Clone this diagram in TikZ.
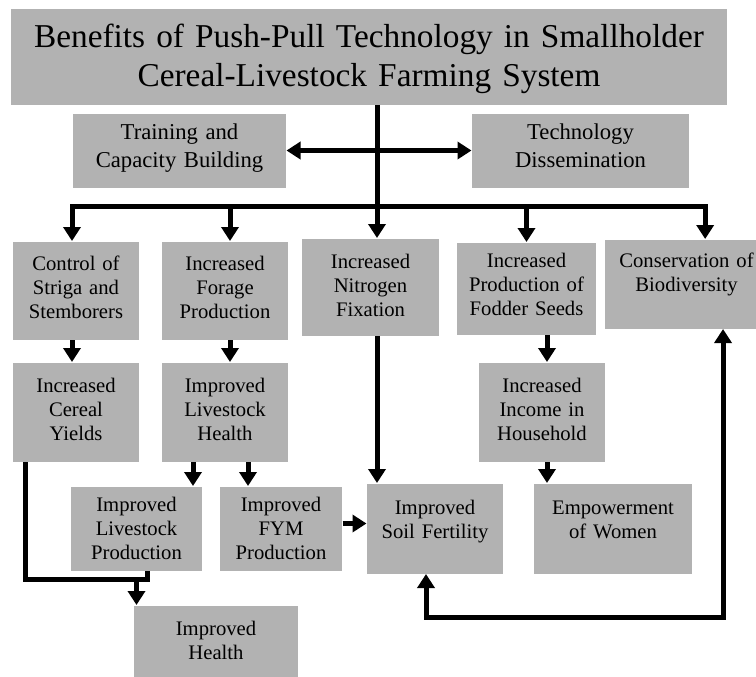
\documentclass[tikz,border=0pt]{standalone}
\usepackage{fontspec}
\setmainfont{Liberation Serif}
\usetikzlibrary{arrows.meta}

\tikzset{every picture/.style={line width=0.75pt}}
\tikzset{
  box/.style n args={3}{fill={rgb, 255:red, 178; green, 178; blue, 178 }, anchor=north, align=center, inner sep=0pt,
    text width=#1, text height=#2, text depth=#3, font=\fontsize{15.5}{18}\selectfont},
  link/.style={line width=3.75pt},
  arr/.style={link, -{Triangle[length=10.5pt,width=12.75pt]}},
  arrs/.style={link, {Triangle[length=10.5pt,width=12.75pt]}-{Triangle[length=10.5pt,width=12.75pt]}},
}

\begin{document}
\begin{tikzpicture}[x=0.75pt,y=0.75pt,yscale=-1,xscale=1]
\useasboundingbox (0,0) rectangle (756,676);

% Text Node
\node [box={537pt}{29.25pt}{42.75pt}, font=\fontsize{25}{29}\selectfont] (title) at (369,8) {Benefits of Push-Pull Technology in Smallholder\\Cereal-Livestock Farming System};
% Text Node
\node [box={159.75pt}{19.5pt}{36pt}, font=\fontsize{17}{21}\selectfont] (train) at (179.5,113) {Training and\\Capacity Building};
% Text Node
\node [box={162.75pt}{19.5pt}{36pt}, font=\fontsize{17}{21}\selectfont] (tech) at (580.5,113) {Technology\\Dissemination};

% Text Node
\node [box={94.5pt}{21.75pt}{51.75pt}] (ctrl) at (76,241) {Control of\\Striga and\\Stemborers};
% Text Node
\node [box={94.5pt}{21.75pt}{51.75pt}] (forage) at (225,241) {Increased\\Forage\\Production};
% Text Node
\node [box={102.75pt}{22.5pt}{50.25pt}] (nitro) at (370.5,238) {Increased\\Nitrogen\\Fixation};
% Text Node
\node [box={104.25pt}{18.75pt}{50.25pt}] (fodder) at (526.5,242) {Increased\\Production of\\Fodder Seeds};
% Text Node
\node [box={122.25pt}{21pt}{45.75pt}] (cons) at (686.5,239) {Conservation of\\Biodiversity};

% Text Node
\node [box={94.5pt}{22.5pt}{51.75pt}] (cereal) at (76,362) {Increased\\Cereal\\Yields};
% Text Node
\node [box={94.5pt}{22.5pt}{51.75pt}] (lhealth) at (225,362) {Improved\\Livestock\\Health};
% Text Node
\node [box={94.5pt}{22.5pt}{51.75pt}] (income) at (542,362) {Increased\\Income in\\Household};

% Text Node
\node [box={98.25pt}{18.75pt}{44.25pt}] (lprod) at (136.5,486) {Improved\\Livestock\\Production};
% Text Node
\node [box={91.5pt}{18.75pt}{44.25pt}] (fym) at (281,486) {Improved\\FYM\\Production};
% Text Node
\node [box={102pt}{23.25pt}{44.25pt}] (soil) at (435,483) {Improved\\Soil Fertility};
% Text Node
\node [box={118.5pt}{23.25pt}{44.25pt}] (empower) at (613,483) {Empowerment\\of Women};
% Text Node
\node [box={123pt}{22.5pt}{33.75pt}] (health) at (216,605) {Improved\\Health};

% Helper points
\coordinate (trunk) at (377,104);
\coordinate (bar) at (0,206);
\coordinate (merge) at (0,579);
\coordinate (loop) at (0,617);
\coordinate (c1) at ([xshift=-3pt]ctrl.north);
\coordinate (c2) at ([xshift=3.75pt]forage.north);
\coordinate (c4) at ([xshift=14pt]cons.north);
\coordinate (h1) at ([xshift=-24pt]lhealth.south);
\coordinate (h2) at ([xshift=17.25pt]lhealth.south);
\coordinate (i1) at ([xshift=3.75pt]income.north);
\coordinate (i2) at ([xshift=3.75pt]income.south);
\coordinate (y1) at ([xshift=-38.25pt]cereal.south);
\coordinate (p1) at ([xshift=8pt]lprod.south);
\coordinate (s1) at ([xshift=-6.75pt]soil.south);
\coordinate (k1) at ([xshift=27.4pt]cons.south);

%Straight Lines
\draw [arr] (title.south -| trunk) -- (nitro.north -| trunk);
\draw [arrs] (train.east) -- (tech.west);
\draw [arrs] (c1) -- (c1 |- bar) -- (c4 |- bar) -- (c4);
\draw [arr] (c2 |- bar) -- (c2);
\draw [arr] (fodder.north |- bar) -- (fodder.north);

%Straight Lines
\draw [arr] ([xshift=-3pt]ctrl.south) -- ([xshift=-3pt]cereal.north);
\draw [arr] ([xshift=3.75pt]forage.south) -- ([xshift=3.75pt]lhealth.north);
\draw [arr] (i1 |- fodder.south) -- (i1);
\draw [arr] (nitro.south -| trunk) -- (soil.north -| trunk);

%Straight Lines
\draw [arr] (h1) -- (h1 |- lprod.north);
\draw [arr] (h2) -- (h2 |- fym.north);
\draw [arr] ([yshift=-3.75pt]fym.east) -- ([yshift=-3.75pt]soil.west);
\draw [arr] (i2) -- (i2 |- empower.north);

%Straight Lines
\draw [link] (y1) -- (y1 |- merge) -- (p1 |- merge) -- (p1);
\draw [arr] (lprod.south |- merge) -- (lprod.south |- health.north);
\draw [arrs] (s1) -- (s1 |- loop) -- (k1 |- loop) -- (k1);

\end{tikzpicture}
\end{document}
